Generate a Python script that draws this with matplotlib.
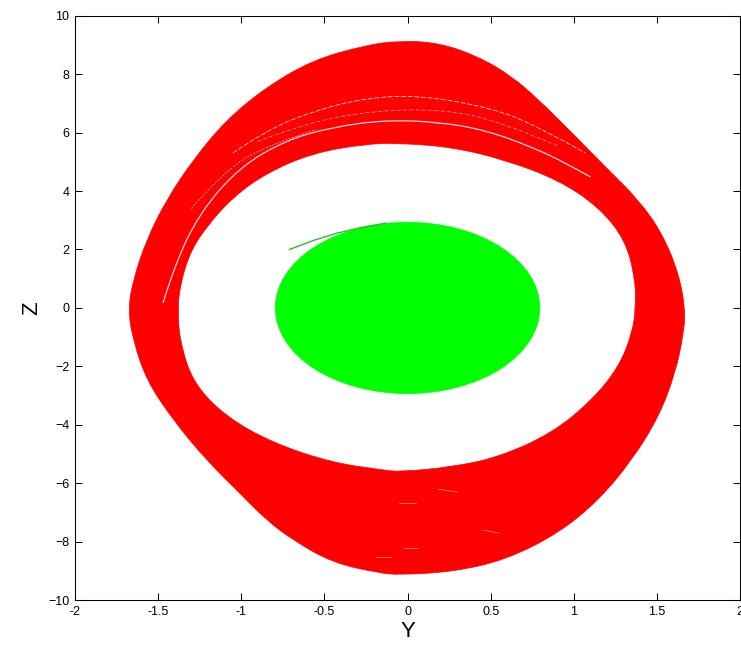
import numpy as np
import matplotlib
matplotlib.use("Agg")
import matplotlib.pyplot as plt
from matplotlib.path import Path
from matplotlib.patches import PathPatch, Ellipse

plt.rcParams['font.family'] = ['Liberation Sans', 'DejaVu Sans']

# outer edge of the red band (Y, Z), clockwise from the top
outer_y = [-0.05, 0.19, 0.43, 0.63, 0.79, 0.99, 1.19, 1.39, 1.53, 1.63, 1.67, 1.66,
           1.61, 1.51, 1.35, 1.15, 0.91, 0.59, 0.27, -0.05, -0.17, -0.45, -0.69, -0.85,
           -1.01, -1.21, -1.41, -1.57, -1.65, -1.68, -1.65, -1.57, -1.45, -1.29, -1.09,
           -0.85, -0.57, -0.25]
outer_z = [9.14, 9.07, 8.59, 7.91, 7.11, 5.98, 4.82, 3.69, 2.56, 1.19, -0.07, -0.86,
           -2.23, -3.73, -5.20, -6.57, -7.70, -8.62, -9.03, -9.13, -9.07, -8.72, -7.94, -7.25,
           -6.33, -5.20, -3.83, -2.47, -1.10, -0.07, 0.95, 2.32, 3.69, 5.06, 6.43,
           7.55, 8.48, 8.99]

# inner edge of the red band (Y, Z), clockwise from the top
inner_y = [-0.05, 0.27, 0.59, 0.91, 1.15, 1.31, 1.37, 1.37, 1.35, 1.27, 1.11, 0.87,
           0.55, 0.27, -0.05, -0.15, -0.45, -0.81, -1.09, -1.29, -1.37, -1.38, -1.37,
           -1.31, -1.21, -1.05, -0.85, -0.57, -0.25]
inner_z = [5.64, 5.50, 5.06, 4.37, 3.45, 2.32, 0.95, -0.07, -0.86, -2.02, -3.15, -4.28,
           -5.10, -5.44, -5.61, -5.54, -5.30, -4.62, -3.73, -2.57, -1.10, -0.07, 0.71,
           1.88, 2.77, 3.79, 4.61, 5.30, 5.61]

# thin gaps between trajectory passes in the upper band
gap_a_y = [-1.47, -1.40, -1.25, -1.01, -0.73, -0.45, -0.13, 0.19, 0.47, 0.75, 0.95, 1.10]
gap_a_z = [0.17, 1.47, 3.25, 4.82, 5.74, 6.19, 6.43, 6.36, 6.08, 5.50, 4.96, 4.48]
gap_b_y = [-1.05, -0.85, -0.55, -0.25, 0.07, 0.51, 0.79, 1.07]
gap_b_z = [5.30, 6.08, 6.77, 7.18, 7.28, 6.84, 6.19, 5.30]
gap_c_y = [-0.90, -0.60, -0.20, 0.20, 0.55, 0.90]
gap_c_z = [5.70, 6.35, 6.75, 6.80, 6.40, 5.55]
gap_d_y = [-1.30, -1.10, -0.85, -0.55]
gap_d_z = [3.40, 4.70, 5.55, 6.10]

# short gaps in the lower band
dash_y = [[-0.05, 0.05], [-0.19, -0.10], [-0.02, 0.06], [0.18, 0.30], [0.45, 0.55]]
dash_z = [[-6.67, -6.67], [-8.52, -8.52], [-8.21, -8.21], [-6.20, -6.30], [-7.60, -7.70]]

# inner attractor: centre and semi-axes, plus its entry tail
inner_centre = (0.0, 0.0)
inner_half_y = 0.795
inner_half_z = 2.93
tail_y = [-0.71, -0.57, -0.43, -0.28, -0.13]
tail_z = [2.00, 2.30, 2.55, 2.75, 2.90]


def spline_path(ys, zs, closed=True):
    # quadratic spline: listed points are control points, midpoints lie on the curve
    pts = np.column_stack([ys, zs])
    if closed:
        mids = (pts + np.roll(pts, -1, axis=0)) / 2
        verts = [mids[-1]]
        codes = [Path.MOVETO]
        for p, m in zip(pts, mids):
            verts += [p, m]
            codes += [Path.CURVE3, Path.CURVE3]
        return verts, codes
    verts = [pts[0]]
    codes = [Path.MOVETO]
    for i in range(1, len(pts) - 1):
        end = pts[i + 1] if i == len(pts) - 2 else (pts[i] + pts[i + 1]) / 2
        verts += [pts[i], end]
        codes += [Path.CURVE3, Path.CURVE3]
    return verts, codes


fig = plt.figure(figsize=(7.41, 6.51), dpi=100)
ax = fig.add_axes([0.101, 0.078, 0.898, 0.898])

ov, oc = spline_path(outer_y, outer_z)
iv, ic = spline_path(inner_y[::-1], inner_z[::-1])
band = PathPatch(Path(ov + iv, oc + ic), facecolor='#ff0000', edgecolor='#ff0000',
                 linewidth=0.5)
ax.add_patch(band)

for gy, gz, lw, ls in [(gap_a_y, gap_a_z, 0.9, '-'), (gap_b_y, gap_b_z, 0.6, (0, (6, 2))),
                       (gap_c_y, gap_c_z, 0.5, (0, (4, 2, 1, 2))),
                       (gap_d_y, gap_d_z, 0.5, (0, (3, 2)))]:
    gv, gc = spline_path(gy, gz, closed=False)
    ax.add_patch(PathPatch(Path(gv, gc), fill=False, edgecolor='white', lw=lw,
                           linestyle=ls, alpha=0.85))
for dy, dz in zip(dash_y, dash_z):
    ax.plot(dy, dz, color='white', lw=0.5, alpha=0.6)

ax.plot(tail_y, tail_z, color='#33bb33', lw=1.0)
ax.add_patch(Ellipse(inner_centre, 2 * inner_half_y, 2 * inner_half_z,
                     facecolor='#00ff00', edgecolor='#00ff00', linewidth=0.5))

ax.set_xlim(-2, 2)
ax.set_ylim(-10, 10)
ax.set_xticks(np.arange(-2, 2.01, 0.5))
ax.set_xticklabels(['-2', '-1.5', '-1', '-0.5', '0', '0.5', '1', '1.5', '2'])
ax.set_yticks(np.arange(-10, 10.01, 2))
ax.tick_params(direction='in', top=True, right=True, length=5, width=0.75,
               labelsize=9, pad=4)
for s in ax.spines.values():
    s.set_linewidth(0.75)

ax.set_xlabel('Y', fontsize=16, labelpad=2)
ax.set_ylabel('Z', fontsize=16, labelpad=4)

fig.savefig('out.png', dpi=100)
